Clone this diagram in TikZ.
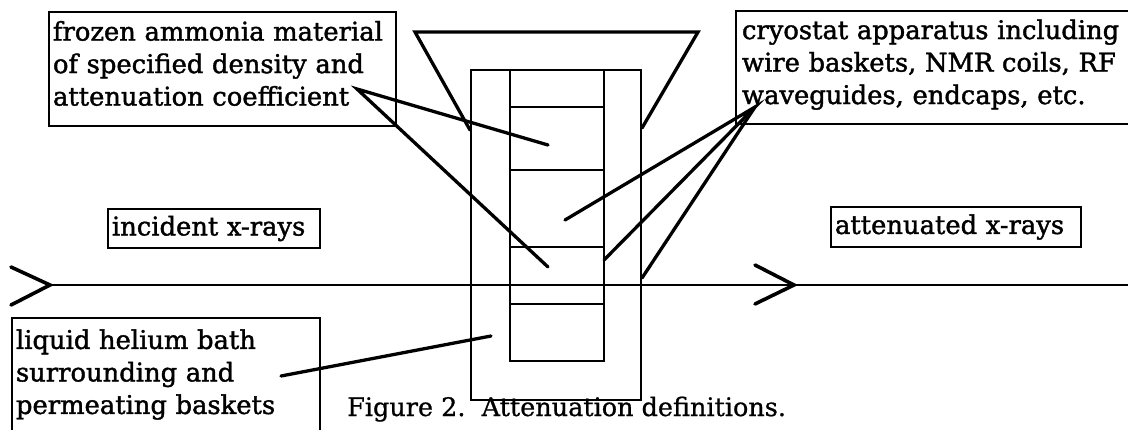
\documentclass[tikz,border=0pt]{standalone}
\usepackage{fontspec}
\setmainfont{DejaVu Serif}
\newfontfamily\lblfont[FakeBold=1.5]{DejaVu Serif}
\newfontfamily\capfont[FakeBold=0.8]{DejaVu Serif}
\newcommand{\liftlbl}{\\[-21pt]\mbox{}}
\tikzset{
  lbl/.style={draw=black,line width=2.4pt,align=left,inner sep=0pt,anchor=center,font=\lblfont\fontsize{25.8}{32.5}\selectfont},
  frame/.style={draw=black,line width=2.4pt},
  leader/.style={draw=black,line width=3.3pt,line cap=round},
  ray/.style={draw=black,line width=2.6pt},
  barb/.style={draw=black,line width=3.6pt,line cap=round,line join=miter}
}
\begin{document}
\begin{tikzpicture}[x=1pt,y=-1pt]
\useasboundingbox (0,0) rectangle (1128,429);
\clip (0,0) rectangle (1128,429);
\fill[white] (0,0) rectangle (1128,429);
% cold-stage outline
\coordinate (tl) at (415,32); \coordinate (tr) at (698,32);
\coordinate (tlb) at (470,130); \coordinate (trb) at (642,128);
\draw[leader,line join=miter] (tlb) -- (tl) -- (tr) -- (trb);
% outer and inner cells
\node[frame,minimum width=170pt,minimum height=330pt,inner sep=0pt] (outer) at (556,235) {};
\node[frame,minimum width=94pt,minimum height=291pt,inner sep=0pt] (inner) at (557,215.5) {};
\foreach \n/\yy in {a/107,b/170,c/247,d/304}{
  \coordinate (\n L) at (510,\yy); \coordinate (\n R) at (604,\yy);
  \draw[frame] (\n L) -- (\n R);
}
% text boxes
\node[lbl,minimum width=347pt,minimum height=114pt,text width=339pt] (frozen) at (222.5,69) {frozen ammonia material\\of specified density and\\attenuation coefficient\liftlbl};
\node[lbl,minimum width=420pt,minimum height=113pt,text width=408pt] (cryo) at (946,67.5) {cryostat apparatus including\\wire baskets, NMR coils, RF\\waveguides, endcaps, etc.\liftlbl};
\node[lbl,minimum width=212pt,minimum height=39pt,text width=204pt] (inc) at (214,228.5) {incident x-rays};
\node[lbl,minimum width=250pt,minimum height=40pt,text width=242pt] (att) at (956,227) {attenuated x-rays};
\node[lbl,minimum width=308pt,minimum height=113pt,text width=300pt] (he) at (166,374.5) {liquid helium bath\\surrounding and\\permeating baskets};
\node[font=\capfont\fontsize{25.5}{30}\selectfont,inner sep=0pt,anchor=base west] (cap) at (347,416) {Figure 2.\ \ Attenuation definitions.};
% x-ray beam
\coordinate (b0) at (50,285); \coordinate (b1) at (794,285); \coordinate (b2) at (1128,285);
\coordinate (ua) at (11,267); \coordinate (la) at (11,305);
\coordinate (ub) at (755,265); \coordinate (lb) at (755,304);
\draw[ray] (b0) -- (b1) -- (b2);
\draw[barb] (ua) -- (b0) -- (la);
\draw[barb] (ub) -- (b1) -- (lb);
% leaders
\coordinate (ft) at (357,89); \coordinate (f1) at (548,145); \coordinate (f2) at (548,267);
\coordinate (ct) at (755,107); \coordinate (c1) at (565,220); \coordinate (c2) at (604,260); \coordinate (c3) at (642,278);
\coordinate (h0) at (281,376); \coordinate (h1) at (491,336);
\draw[leader] (f1) -- (ft) -- (f2);
\draw[leader] (c1) -- (ct) -- (c2);
\draw[leader] (ct) -- (c3);
\draw[leader] (h0) -- (h1);
\end{tikzpicture}
\end{document}
